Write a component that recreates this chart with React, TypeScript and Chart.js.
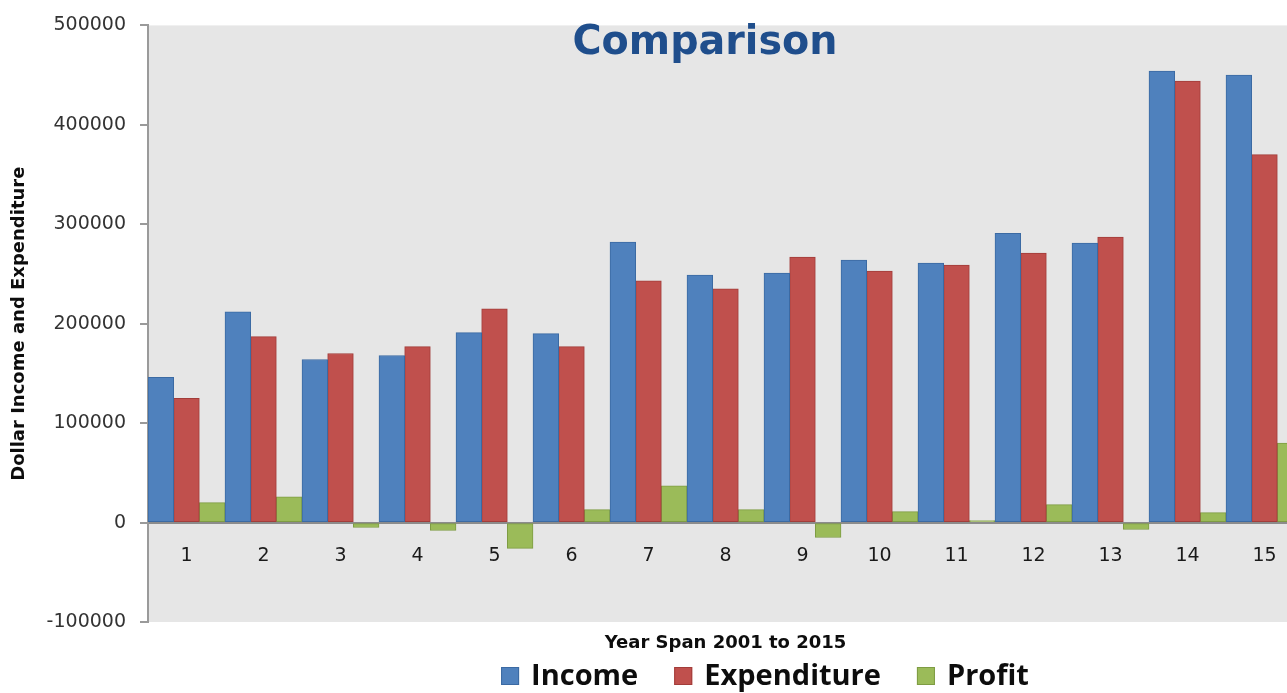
import React, { useEffect, useRef } from 'react';
import { Chart, registerables } from 'chart.js';

Chart.register(...registerables);

const categories = ['1', '2', '3', '4', '5', '6', '7', '8', '9', '10', '11', '12', '13', '14', '15'];
const income = [146000, 212000, 164000, 168000, 191000, 190000, 282000, 249000, 251000, 264000, 261000, 291000, 281000, 454000, 450000];
const expenditure = [125000, 187000, 170000, 177000, 215000, 177000, 243000, 235000, 267000, 253000, 259000, 271000, 287000, 444000, 370000];
const profit = [20000, 26000, -5000, -8000, -26000, 13000, 37000, 13000, -15000, 11000, 2000, 18000, -7000, 10000, 80000];
const yTicks = [-100000, 0, 100000, 200000, 300000, 400000, 500000];
const seriesNames = ['Income', 'Expenditure', 'Profit'];
const seriesFill = ['#4F81BD', '#C0504D', '#9BBB59'];
const seriesBorder = ['#3B6AA3', '#A23D3A', '#7E9C43'];
const chartTitle = 'Comparison';
const xTitle = 'Year Span 2001 to 2015';
const yTitle = 'Dollar Income and Expenditure';

const plotBg = {
  id: 'plotBg',
  beforeDraw(chart: any) {
    const { ctx, chartArea: a } = chart;
    ctx.save();
    ctx.fillStyle = '#E6E6E6';
    ctx.fillRect(a.left, a.top, a.right - a.left, a.bottom - a.top);
    ctx.restore();
  },
};

const titlePlugin = {
  id: 'stretchedTitle',
  afterDraw(chart: any) {
    const { ctx } = chart;
    ctx.save();
    ctx.font = 'bold 40px "DejaVu Sans"';
    const w = ctx.measureText(chartTitle).width;
    const sx = 265 / w;
    ctx.translate(705, 54);
    ctx.scale(sx, 1);
    ctx.textAlign = 'center';
    ctx.textBaseline = 'alphabetic';
    ctx.fillStyle = '#1F4E8C';
    ctx.fillText(chartTitle, 0, 0);
    ctx.restore();
  },
};

const legendPlugin = {
  id: 'bottomLegend',
  afterDraw(chart: any) {
    const { ctx } = chart;
    const datasets = chart.data.datasets;
    ctx.save();
    ctx.font = 'bold 29px "Open Sans"';
    const box = 18;
    const textGap = 12;
    const itemGap = 36;
    const widths = datasets.map((d: any) => ctx.measureText(d.label).width);
    const total = widths.reduce((s: number, w: number) => s + w + box + textGap, 0) + itemGap * (datasets.length - 1);
    let x = 765 - total / 2;
    const baseline = 685;
    datasets.forEach((d: any, i: number) => {
      ctx.fillStyle = d.backgroundColor;
      ctx.fillRect(x, 667, box, box);
      ctx.strokeStyle = d.borderColor;
      ctx.lineWidth = 1;
      ctx.strokeRect(x + 0.5, 667.5, box - 1, box - 1);
      ctx.fillStyle = '#0D0D0D';
      ctx.textBaseline = 'alphabetic';
      ctx.textAlign = 'left';
      ctx.fillText(d.label, x + box + textGap, baseline);
      x += box + textGap + widths[i] + itemGap;
    });
    ctx.restore();
  },
};

export default function App() {
  const ref = useRef<HTMLCanvasElement>(null);

  useEffect(() => {
    const series = [income, expenditure, profit];
    const chart = new Chart(ref.current as HTMLCanvasElement, {
      type: 'bar',
      data: {
        labels: categories,
        datasets: series.map((values, i) => ({
          label: seriesNames[i],
          data: values,
          backgroundColor: seriesFill[i],
          borderColor: seriesBorder[i],
          borderWidth: 1,
          borderSkipped: false,
          categoryPercentage: 1,
          barPercentage: 1,
          xAxisID: 'x',
          yAxisID: 'y',
        })),
      },
      options: {
        responsive: false,
        animation: false,
        devicePixelRatio: 1,
        layout: { padding: { top: 22, right: 17, left: 0, bottom: 0 } },
        plugins: {
          legend: { display: false },
          title: { display: false },
          tooltip: { enabled: false },
        },
        scales: {
          x: {
            type: 'category',
            axis: 'x',
            position: { y: 0 },
            grid: { display: false, drawTicks: false },
            border: { display: true, color: '#8C8C8C', width: 2 },
            ticks: {
              color: '#1A1A1A',
              font: { family: 'DejaVu Sans', size: 19 },
              padding: 22,
              maxRotation: 0,
              autoSkip: false,
            },
          },
          x2: {
            type: 'category',
            axis: 'x',
            position: 'bottom',
            grid: { display: false, drawTicks: false },
            border: { display: false },
            ticks: { display: false },
            title: {
              display: true,
              text: xTitle,
              color: '#0D0D0D',
              font: { family: 'DejaVu Sans', size: 18, weight: 'bold' },
              padding: { top: 0, bottom: 39 },
            },
            afterFit: (s: any) => {
              s.height = 71;
            },
          },
          y: {
            type: 'linear',
            position: 'left',
            min: -100000,
            max: 500000,
            afterBuildTicks: (s: any) => {
              s.ticks = yTicks.map((v) => ({ value: v }));
            },
            ticks: {
              color: '#333333',
              font: { family: 'DejaVu Sans', size: 19 },
              padding: 14,
              callback: (v: any) => String(v),
            },
            grid: { drawOnChartArea: false, drawTicks: true, tickLength: 8, color: '#9A9A9A', lineWidth: 2 },
            border: { display: true, color: '#9A9A9A', width: 2 },
            title: {
              display: true,
              text: yTitle,
              color: '#0D0D0D',
              font: { family: 'DejaVu Sans', size: 18, weight: 'bold' },
              padding: { top: 9, bottom: 0 },
            },
            afterFit: (s: any) => {
              s.width = 148;
            },
          },
        },
      } as any,
      plugins: [plotBg, titlePlugin, legendPlugin],
    });
    return () => chart.destroy();
  }, []);

  return (
    <div
      style={{
        position: 'fixed',
        left: 0,
        top: 0,
        width: 1287,
        height: 693,
        overflow: 'hidden',
        background: '#FFFFFF',
      }}
    >
      <canvas ref={ref} width={1320} height={693} style={{ display: 'block' }} />
    </div>
  );
}
